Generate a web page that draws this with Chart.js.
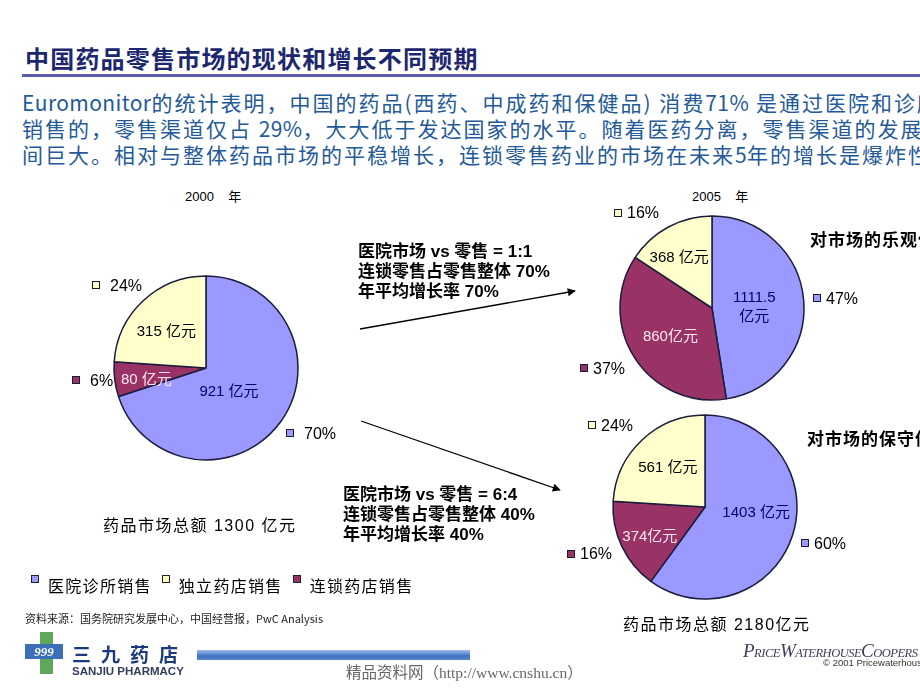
<!DOCTYPE html>
<html>
<head>
<meta charset="utf-8">
<script src="https://cdn.jsdelivr.net/npm/chart.js@4.4.1/dist/chart.umd.min.js"></script>
<style>
  body { margin: 0; width: 920px; height: 690px; overflow: hidden; background: #fff; position: relative;
         font-family: "Noto Sans CJK SC", sans-serif; }
  .abs { position: absolute; white-space: nowrap; }
  canvas { position: absolute; }
  .title { left: 25px; top: 42px; font-size: 24px; font-weight: bold; color: #1c2770; letter-spacing: 1.2px; line-height: 32px; }
  .rule { left: 22px; top: 74px; width: 898px; height: 3px; background: #5b5bb0; }
  .body { left: 22px; top: 89px; width: 898px; overflow: hidden; font-size: 21px; letter-spacing: 2px; line-height: 26px; color: #245a98; }
  .body span { letter-spacing: 0.4px; }
  .note { font-family: "Liberation Sans", "Noto Sans CJK SC", sans-serif; font-weight: bold; font-size: 17px; line-height: 20px; color: #000; }
  .year { font-family: "Liberation Sans", "Noto Sans CJK SC", sans-serif; font-size: 13px; color: #000; }
  .total { font-family: "Liberation Sans", "Noto Sans CJK SC", sans-serif; font-size: 16px; letter-spacing: 1.5px; color: #000; }
  .side { font-size: 17px; font-weight: bold; letter-spacing: 1px; color: #000; }
  #legend { left: 31px; top: 572px; display: flex; align-items: flex-start; font-size: 16px; letter-spacing: 1.3px; line-height: 26px; }
  #legend .item { display: flex; align-items: flex-start; margin-right: 10px; }
  #legend .key { width: 6px; height: 6px; border: 1px solid #222; margin-top: 3px; margin-right: 9px; }
  .src { left: 25px; top: 610px; font-size: 11px; color: #222; }
</style>
</head>
<body>

<div class="abs title">中国药品零售市场的现状和增长不同预期</div>
<div class="abs rule"></div>
<div class="abs body">
  <div><span>Euromonitor</span>的统计表明，中国的药品(西药、中成药和保健品) 消费<span>71%</span> 是通过医院和诊所</div>
  <div>销售的，零售渠道仅占 <span>29%</span>，大大低于发达国家的水平。随着医药分离，零售渠道的发展空间</div>
  <div>间巨大。相对与整体药品市场的平稳增长，连锁零售药业的市场在未来<span>5</span>年的增长是爆炸性的</div>
</div>

<div class="abs year" style="left:185px; top:186px;">2000&nbsp;&nbsp;&nbsp;&nbsp;年</div>
<div class="abs year" style="left:692px; top:186px;">2005&nbsp;&nbsp;&nbsp;&nbsp;年</div>

<canvas id="pie2000" width="320" height="320" style="left:46px; top:208px;"></canvas>
<canvas id="pie2005High" width="320" height="320" style="left:552px; top:148px;"></canvas>
<canvas id="pie2005Low" width="320" height="320" style="left:545px; top:347px;"></canvas>

<svg class="abs" style="left:0; top:0;" width="920" height="690">
  <defs>
    <marker id="head" viewBox="0 0 10 10" refX="9" refY="5" markerWidth="10" markerHeight="8" markerUnits="userSpaceOnUse" orient="auto">
      <path d="M0,0 L10,5 L0,10 z" fill="#000"/>
    </marker>
  </defs>
  <line x1="360" y1="329" x2="575" y2="291" stroke="#000" stroke-width="1.3" marker-end="url(#head)"/>
  <line x1="361" y1="421" x2="560" y2="490" stroke="#000" stroke-width="1.3" marker-end="url(#head)"/>
</svg>

<div class="abs note" style="left:358px; top:242px;">医院市场 vs 零售 = 1:1<br>连锁零售占零售整体 70%<br>年平均增长率 70%</div>
<div class="abs note" style="left:343px; top:485px;">医院市场 vs 零售 = 6:4<br>连锁零售占零售整体 40%<br>年平均增长率 40%</div>

<div class="abs side" style="left:810px; top:226px;">对市场的乐观估计</div>
<div class="abs side" style="left:807px; top:425px;">对市场的保守估计</div>

<div class="abs total" style="left:103px; top:512px;">药品市场总额 1300 亿元</div>
<div class="abs total" style="left:623px; top:611px;">药品市场总额 2180亿元</div>

<div id="legend" class="abs"></div>
<div class="abs src">资料来源：国务院研究发展中心，中国经营报，PwC Analysis</div>

<!-- footer logos -->
<div class="abs" style="left:40px; top:632px; width:13px; height:12px; background:#5fa85a;"></div>
<div class="abs" style="left:40px; top:659px; width:13px; height:15px; background:#5fa85a;"></div>
<div class="abs" style="left:25px; top:644px; width:38px; height:15px; background:#3b6fb6; color:#fff; font:italic bold 13px 'Liberation Serif'; line-height:15px; text-align:center;">999</div>
<div class="abs" style="left:72px; top:644px; font-size:19px; font-weight:bold; letter-spacing:10px; line-height:19px; color:#1b3a7a;">三九药店</div>
<div class="abs" style="left:197px; top:650px; width:273px; height:10px; background:linear-gradient(#9fc0ee, #3d70c0 60%, #5d8ad0);"></div>
<div class="abs" style="left:72px; top:665px; font:bold 11.5px 'Liberation Sans'; line-height:12px; color:#333d5a;">SANJIU PHARMACY</div>
<div class="abs" style="left:346px; top:660px; font-family:'Liberation Serif','Noto Sans CJK SC'; font-size:15.5px; color:#666;">精品资料网（http://www.cnshu.cn）</div>
<div class="abs" style="left:743px; top:640px; font-family:'Liberation Serif'; font-style:italic; color:#3d3d5c; font-size:12.5px; line-height:22px; letter-spacing:-0.5px;"><span style="font-size:19px">P</span>RICE<span style="font-size:19px">W</span>ATERHOUSE<span style="font-size:19px">C</span>OOPERS</div>
<div class="abs" style="left:823px; top:657px; font:9.5px 'Liberation Sans'; color:#333;">© 2001 PricewaterhouseCoopers</div>

<script>
// slices clockwise from 12 o'clock
const categories = ['医院诊所销售', '连锁药店销售', '独立药店销售'];
const legendOrder = [0, 2, 1];
const sliceColors = ['#9999ff', '#993366', '#ffffcc'];
const inkColors = ['#000066', '#ffe6f2', '#000000'];

// 2000 actual, 亿元 and share %
const values2000 = [921, 80, 315];
const share2000 = [70, 6, 24];
// 2005 optimistic
const values2005High = [1111.5, 860, 368];
const share2005High = [47, 37, 16];
// 2005 conservative
const values2005Low = [1403, 374, 561];
const share2005Low = [60, 16, 24];

const unit = '亿元';

// draws "xxx 亿元" inside each slice and "■ nn%" outside it
const sliceLabels = {
  id: 'sliceLabels',
  afterDatasetsDraw(chart, args, opts) {
    const ctx = chart.ctx;
    const ds = chart.data.datasets[0];
    const deg = Math.PI / 180;
    chart.getDatasetMeta(0).data.forEach((arc, i) => {
      const p = arc.getProps(['x', 'y', 'startAngle', 'endAngle', 'outerRadius'], true);
      const mid = (p.startAngle + p.endAngle) / 2;

      const [ri, ti] = opts.inside[i];
      const ai = mid + ti * deg;
      const ix = p.x + Math.cos(ai) * p.outerRadius * ri;
      const iy = p.y + Math.sin(ai) * p.outerRadius * ri;
      ctx.save();
      ctx.font = '15px "Liberation Sans", "Noto Sans CJK SC"';
      ctx.fillStyle = inkColors[i];
      ctx.textAlign = 'center';
      ctx.textBaseline = 'middle';
      const lines = (ds.data[i] + opts.joiner[i] + unit).split('\n');
      lines.forEach((t, k) => ctx.fillText(t, ix, iy + (k - (lines.length - 1) / 2) * 19));

      const [ro, to] = opts.outside[i];
      const ao = mid + to * deg;
      const ox = p.x + Math.cos(ao) * p.outerRadius * ro;
      const oy = p.y + Math.sin(ao) * p.outerRadius * ro;
      ctx.font = '16px "Liberation Sans"';
      const txt = opts.share[i] + '%';
      const tw = ctx.measureText(txt).width;
      const box = 8;
      const left = Math.round(ox - (box + opts.gap + tw) / 2);
      const top = Math.round(oy - box / 2);
      ctx.fillStyle = sliceColors[i];
      ctx.fillRect(left, top, box, box);
      ctx.strokeStyle = '#1a1a33';
      ctx.lineWidth = 1;
      ctx.strokeRect(left + 0.5, top + 0.5, box - 1, box - 1);
      ctx.fillStyle = '#000';
      ctx.textAlign = 'left';
      ctx.fillText(txt, left + box + opts.gap, oy + 1);
      ctx.restore();
    });
  }
};

function makePie(id, values, share, labelOpts) {
  return new Chart(document.getElementById(id), {
    type: 'pie',
    data: {
      labels: categories,
      datasets: [{
        data: values,
        backgroundColor: sliceColors,
        borderColor: '#1c1c3c',
        borderWidth: 1.5,
        radius: 92,
        hoverOffset: 0
      }]
    },
    options: {
      responsive: false,
      animation: false,
      events: [],
      layout: { padding: 0 },
      plugins: {
        legend: { display: false },
        tooltip: { enabled: false },
        sliceLabels: Object.assign({ share: share }, labelOpts)
      }
    },
    plugins: [sliceLabels]
  });
}

makePie('pie2000', values2000, share2000, {
  joiner: [' ', ' ', ' '],
  inside: [[0.36, 10], [0.66, -4], [0.58, -5]],
  outside: [[1.34, -4], [1.24, 1], [1.32, -4]],
  gap: 10
});
makePie('pie2005High', values2005High, share2005High, {
  joiner: ['\n', '', ' '],
  inside: [[0.46, 4], [0.55, -2], [0.65, -5]],
  outside: [[1.35, 0], [1.36, 4], [1.32, -10]],
  gap: 5
});
makePie('pie2005Low', values2005Low, share2005Low, {
  joiner: [' ', '', ' '],
  inside: [[0.56, -11], [0.68, -3], [0.59, 0]],
  outside: [[1.35, -1], [1.35, 3], [1.36, -6]],
  gap: 5
});

// shared legend under the first pie
const legend = document.getElementById('legend');
legendOrder.forEach(i => {
  const item = document.createElement('div');
  item.className = 'item';
  const key = document.createElement('div');
  key.className = 'key';
  key.style.background = sliceColors[i];
  const label = document.createElement('div');
  label.textContent = categories[i];
  item.appendChild(key);
  item.appendChild(label);
  legend.appendChild(item);
});
</script>
</body>
</html>
